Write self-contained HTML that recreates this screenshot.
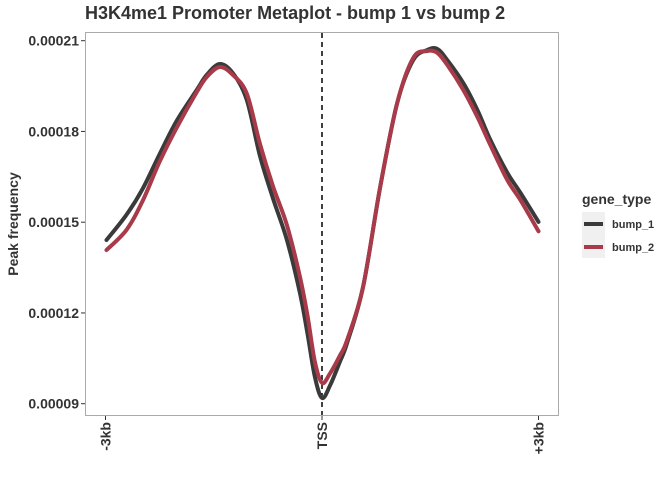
<!DOCTYPE html>
<html><head><meta charset="utf-8"><style>
body{margin:0;background:#fff;font-family:"Liberation Sans",sans-serif;}
svg text{font-family:"Liberation Sans",sans-serif;}
</style></head><body>
<svg id="chart" width="672" height="480">
<text x="85" y="19" font-size="18" font-weight="bold" fill="#333">H3K4me1 Promoter Metaplot - bump 1 vs bump 2</text>
<rect x="85.5" y="32.5" width="473" height="383" fill="#fff" stroke="#aaa" stroke-width="1"/>
<g id="yaxis"></g>
<g id="xaxis"></g>
<text transform="translate(18,224) rotate(-90)" text-anchor="middle" font-size="14" font-weight="bold" fill="#333">Peak frequency</text>
<g id="series"></g>
<g>
<text x="582" y="204" font-size="14" font-weight="bold" fill="#333">gene_type</text>
<rect x="582" y="212" width="23" height="46" fill="#f0f0f0"/>
<line x1="584" y1="224" x2="603" y2="224" stroke="#3a3a3a" stroke-width="4"/>
<line x1="584" y1="247" x2="603" y2="247" stroke="#a83a4a" stroke-width="4"/>
<text x="612" y="228" font-size="11" font-weight="bold" fill="#333">bump_1</text>
<text x="612" y="251" font-size="11" font-weight="bold" fill="#333">bump_2</text>
</g>
</svg>
<script>
const positions=[-2986,-2708,-2486,-2250,-2014,-1736,-1597,-1417,-1236,-1042,-861,-681,-486,-306,-200,-100,0,111,250,347,569,806,1042,1264,1458,1597,1736,1958,2153,2333,2569,2750,3000];
const bump1=[0.0001441,0.0001525,0.000161,0.0001725,0.0001835,0.0001937,0.0001987,0.0002023,0.0001993,0.0001904,0.000172,0.000158,0.0001441,0.0001266,0.0001130,0.0000990,0.0000919,0.0000960,0.0001040,0.0001100,0.0001286,0.0001616,0.0001894,0.0002036,0.0002069,0.0002073,0.0002036,0.000196,0.0001871,0.0001772,0.0001663,0.0001597,0.0001501];
const bump2=[0.0001408,0.0001475,0.0001570,0.0001700,0.0001812,0.000193,0.000198,0.0002013,0.0001987,0.0001925,0.0001760,0.0001620,0.0001490,0.0001320,0.0001190,0.0001040,0.0000969,0.0001000,0.0001060,0.0001110,0.0001286,0.0001616,0.0001894,0.0002043,0.0002066,0.000206,0.000202,0.0001937,0.0001848,0.0001755,0.0001639,0.0001573,0.000147];
const yTicks=[0.00009,0.00012,0.00015,0.00018,0.00021];
const xTickVals=[-3000,0,3000];
const xTickLabels=["-3kb","TSS","+3kb"];
const NS="http://www.w3.org/2000/svg";
function xs(v){return 322+(v/3000)*216.5;}
function ys(v){return 403.7-(v-0.00009)/0.00003*90.75;}
function mk(t,a,p){const e=document.createElementNS(NS,t);for(const k in a)e.setAttribute(k,a[k]);p.appendChild(e);return e;}
const ya=document.getElementById('yaxis');
yTicks.forEach(v=>{
 const l=mk('line',{x1:81,x2:85,y1:ys(v),y2:ys(v),stroke:'#333'},ya);
 
 
 const t=mk('text',{x:79,y:ys(v)+5,'text-anchor':'end','font-size':14,'font-weight':'bold',fill:'#333'},ya);
 t.textContent=v.toFixed(5);
 
 
});
const xa=document.getElementById('xaxis');
xTickVals.forEach((v,i)=>{
 const l=mk('line',{x1:xs(v),x2:xs(v),y1:416,y2:420,stroke:'#333'},xa);
 
 
 const t=mk('text',{transform:`translate(${xs(v)+5},422) rotate(-90)`,'text-anchor':'end','font-size':14,'font-weight':'bold',fill:'#333'},xa);
 t.textContent=xTickLabels[i];
 
 
});
const sg=document.getElementById('series');
const tss=mk('line',{x1:xs(0),x2:xs(0),y1:33,y2:415,stroke:'#000','stroke-width':1.5,'stroke-dasharray':'5,4'},sg);


function path(vals){
 const pts=positions.map((p,i)=>[xs(p),ys(vals[i])]);
 let d=`M${pts[0][0]},${pts[0][1]}`;
 for(let i=0;i<pts.length-1;i++){
  const p0=pts[Math.max(0,i-1)],p1=pts[i],p2=pts[i+1],p3=pts[Math.min(pts.length-1,i+2)];
  const c1x=p1[0]+(p2[0]-p0[0])/6,c1y=p1[1]+(p2[1]-p0[1])/6,c2x=p2[0]-(p3[0]-p1[0])/6,c2y=p2[1]-(p3[1]-p1[1])/6;
  d+=` C${c1x},${c1y} ${c2x},${c2y} ${p2[0]},${p2[1]}`;
 }
 return d;
}
const l1=mk('path',{d:path(bump1),fill:'none',stroke:'#3a3a3a','stroke-width':4,'stroke-linecap':'round','stroke-linejoin':'round'},sg);


const l2=mk('path',{d:path(bump2),fill:'none',stroke:'#a83a4a','stroke-width':4,'stroke-linecap':'round','stroke-linejoin':'round'},sg);


</script>
</body></html>
